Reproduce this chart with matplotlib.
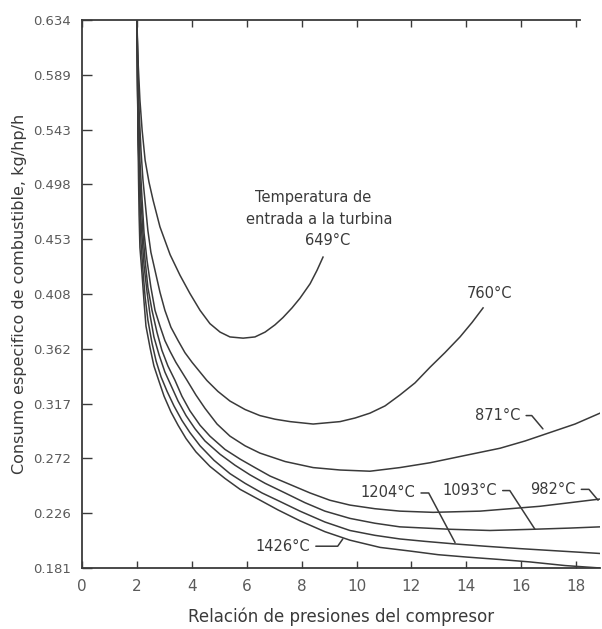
import matplotlib
matplotlib.use('Agg')
import matplotlib.pyplot as plt

# Curves (pressure ratio vs kg/hp/h)
x_649 = [2.0, 2.04, 2.11, 2.19, 2.30, 2.44, 2.59, 2.84, 3.21, 3.57, 3.93, 4.30, 4.66, 5.03,
         5.39, 5.87, 6.30, 6.67, 7.03, 7.32, 7.65, 7.94, 8.31, 8.56, 8.78]
y_649 = [0.634, 0.601, 0.568, 0.543, 0.518, 0.500, 0.485, 0.463, 0.440, 0.423, 0.408, 0.394, 0.383, 0.376,
         0.372, 0.371, 0.372, 0.376, 0.382, 0.388, 0.396, 0.404, 0.416, 0.427, 0.438]

x_760 = [2.0, 2.04, 2.08, 2.15, 2.22, 2.40, 2.51, 2.66, 2.84, 3.02, 3.24, 3.50, 3.75, 4.01, 4.55, 4.95,
         5.39, 5.94, 6.48, 7.03, 7.58, 8.42, 9.40, 9.95, 10.49, 11.04, 11.58, 12.13, 12.68, 13.22,
         13.77, 14.21, 14.61]
y_760 = [0.634, 0.593, 0.559, 0.526, 0.502, 0.460, 0.442, 0.427, 0.409, 0.394, 0.380, 0.369, 0.359, 0.351,
         0.336, 0.327, 0.319, 0.312, 0.307, 0.304, 0.302, 0.300, 0.302, 0.305, 0.309, 0.315, 0.324, 0.334,
         0.347, 0.359, 0.372, 0.384, 0.396]

x_871 = [2.0, 2.04, 2.08, 2.11, 2.19, 2.26, 2.37, 2.51, 2.66, 2.84, 3.02, 3.21, 3.42, 3.83, 4.15, 4.48,
         4.92, 5.39, 5.94, 6.48, 7.40, 8.42, 9.40, 10.49, 11.58, 12.68, 13.95, 15.23, 16.14, 17.05,
         17.96, 18.87]
y_871 = [0.634, 0.588, 0.551, 0.518, 0.485, 0.458, 0.435, 0.413, 0.394, 0.381, 0.369, 0.360, 0.351, 0.336,
         0.324, 0.313, 0.300, 0.290, 0.282, 0.276, 0.269, 0.264, 0.262, 0.261, 0.264, 0.268, 0.274, 0.280,
         0.286, 0.293, 0.300, 0.309]

x_982 = [2.0, 2.04, 2.08, 2.15, 2.22, 2.30, 2.40, 2.55, 2.73, 2.91, 3.13, 3.39, 3.64, 3.93, 4.30, 4.66,
         5.21, 5.76, 6.30, 6.85, 7.58, 8.31, 9.03, 9.76, 10.67, 11.58, 12.79, 14.50, 15.59, 16.68,
         17.78, 18.87]
y_982 = [0.634, 0.551, 0.514, 0.485, 0.458, 0.435, 0.413, 0.394, 0.376, 0.361, 0.348, 0.336, 0.323, 0.311,
         0.299, 0.290, 0.279, 0.271, 0.264, 0.257, 0.250, 0.243, 0.237, 0.233, 0.230, 0.228, 0.227, 0.228,
         0.230, 0.232, 0.235, 0.238]

x_1093 = [2.0, 2.04, 2.08, 2.11, 2.19, 2.26, 2.37, 2.48, 2.62, 2.81, 3.02, 3.24, 3.50, 3.79, 4.12, 4.48,
          5.03, 5.57, 6.12, 6.67, 7.40, 8.12, 8.85, 9.76, 10.67, 11.58, 13.41, 14.86, 16.43, 17.78, 18.87]
y_1093 = [0.634, 0.547, 0.510, 0.481, 0.454, 0.431, 0.409, 0.390, 0.372, 0.357, 0.343, 0.332, 0.319, 0.307,
          0.296, 0.286, 0.275, 0.266, 0.258, 0.251, 0.243, 0.235, 0.228, 0.222, 0.218, 0.215, 0.213, 0.212,
          0.213, 0.214, 0.215]

x_1204 = [2.0, 2.04, 2.08, 2.11, 2.15, 2.22, 2.30, 2.40, 2.55, 2.70, 2.88, 3.10, 3.35, 3.64, 3.93, 4.30,
          4.81, 5.39, 5.94, 6.56, 7.21, 7.94, 8.85, 9.76, 10.67, 11.58, 12.50, 13.52, 14.68, 15.96,
          17.41, 18.87]
y_1204 = [0.634, 0.543, 0.506, 0.477, 0.450, 0.427, 0.405, 0.386, 0.367, 0.352, 0.339, 0.327, 0.315, 0.303,
          0.293, 0.282, 0.270, 0.259, 0.251, 0.243, 0.236, 0.228, 0.219, 0.212, 0.208, 0.205, 0.203, 0.201,
          0.199, 0.197, 0.195, 0.193]

x_1426 = [2.0, 2.04, 2.06, 2.08, 2.11, 2.19, 2.26, 2.33, 2.48, 2.62, 2.81, 2.99, 3.24, 3.50, 3.79, 4.15,
          4.66, 5.21, 5.76, 6.41, 7.14, 7.94, 8.85, 9.76, 10.86, 11.95, 12.97, 14.03, 15.23, 16.32,
          17.60, 18.87]
y_1426 = [0.634, 0.539, 0.502, 0.473, 0.446, 0.423, 0.401, 0.381, 0.363, 0.348, 0.335, 0.323, 0.310, 0.299,
          0.288, 0.277, 0.265, 0.255, 0.246, 0.238, 0.229, 0.220, 0.211, 0.204, 0.198, 0.195, 0.192, 0.190,
          0.188, 0.186, 0.183, 0.181]

x_ticks = [0, 2, 4, 6, 8, 10, 12, 14, 16, 18]
y_ticks = [0.181, 0.2263, 0.2716, 0.3169, 0.3622, 0.4075, 0.4528, 0.4981, 0.5434, 0.5887, 0.634]
y_tick_labels = ['0.181', '0.226', '0.272', '0.317', '0.362', '0.408',
                 '0.453', '0.498', '0.543', '0.589', '0.634']

ink = '#3a3a3a'
grey = '#5a5a5a'

fig = plt.figure(figsize=(6.02, 6.29), dpi=100)
ax = fig.add_axes([0.1362, 0.0970, 0.8605, 0.8712])

for xs, ys in [(x_649, y_649), (x_760, y_760), (x_871, y_871), (x_982, y_982),
               (x_1093, y_1093), (x_1204, y_1204), (x_1426, y_1426)]:
    ax.plot(xs, ys, color=ink, lw=1.1, solid_joinstyle='round')

ax.set_xlim(0, 18.87)
ax.set_ylim(0.181, 0.634)

ax.spines['right'].set_visible(False)
ax.spines['top'].set_bounds(0, 18.14)
for s in ['left', 'bottom', 'top']:
    ax.spines[s].set_color(ink)
    ax.spines[s].set_linewidth(1.3)

ax.set_xticks(x_ticks)
ax.set_yticks(y_ticks)
ax.set_yticklabels(y_tick_labels)
ax.xaxis.set_ticks_position('both')
ax.tick_params(axis='x', direction='in', length=5, width=1, color=ink,
               labelsize=11, labelcolor=grey, pad=8)
ax.tick_params(axis='y', direction='in', length=7, width=1, color=ink,
               labelsize=9.5, labelcolor=grey, pad=8)

ax.set_xlabel('Relación de presiones del compresor', fontsize=12, color=ink, labelpad=10)
ax.set_ylabel('Consumo especifico de combustible, kg/hp/h', fontsize=11.5, color=ink, labelpad=4)

# curve labels
txt = dict(fontsize=10.5, color=ink, ha='center', va='center')
ax.text(8.42, 0.487, 'Temperatura de', **txt)
ax.text(8.63, 0.469, 'entrada a la turbina', **txt)
ax.text(8.96, 0.452, '649°C', **txt)
ax.text(14.83, 0.408, '760°C', **txt)


def leader(label, xy, xytext, angle):
    ax.annotate(label, xy=xy, xytext=xytext, **txt,
                arrowprops=dict(arrowstyle='-', color=ink, lw=1.1, shrinkA=2, shrinkB=0,
                                connectionstyle='angle,angleA=0,angleB=%d,rad=0' % angle))


leader('871°C', (16.79, 0.296), (15.15, 0.307), 130)
leader('982°C', (18.80, 0.237), (17.16, 0.246), 130)
leader('1093°C', (16.50, 0.213), (14.13, 0.245), 123)
leader('1204°C', (13.59, 0.202), (11.15, 0.243), 118)
leader('1426°C', (9.50, 0.205), (7.32, 0.199), 55)

fig.savefig('out.png', dpi=100, facecolor='white')
